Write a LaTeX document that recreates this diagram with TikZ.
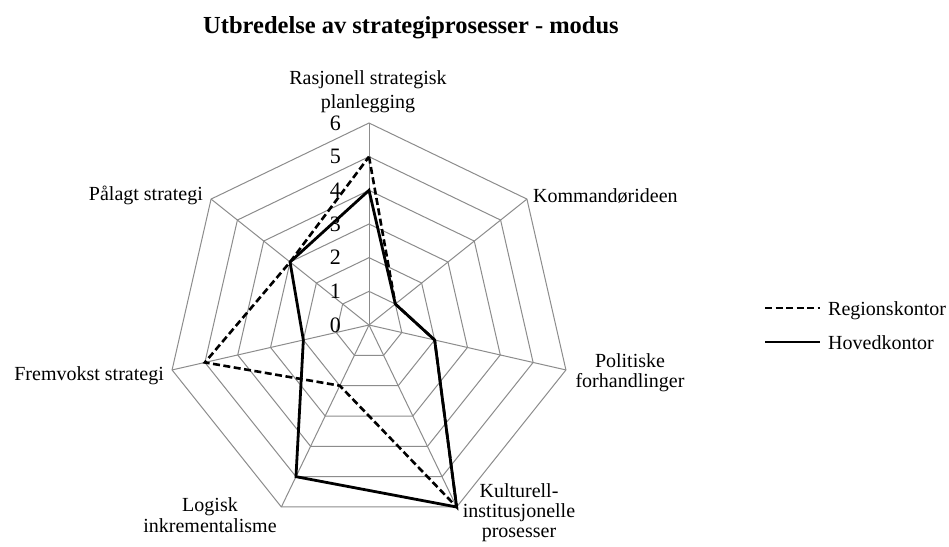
\documentclass[tikz,border=0pt]{standalone}
\usepackage{fontspec}
\setmainfont{Liberation Serif}
\begin{document}
\begin{tikzpicture}[x=1pt,y=-1pt,
  gridline/.style={draw=black!45, line width=1pt, line join=miter},
  regline/.style={draw=black, line width=2.6pt, dash pattern=on 7pt off 3.5pt, line join=miter},
  hovline/.style={draw=black, line width=2.8pt, line join=miter},
  axlabel/.style={font=\fontsize{20}{20}\selectfont, inner sep=0pt, align=center},
  ticklabel/.style={font=\fontsize{22}{22}\selectfont, inner sep=0pt, anchor=east},
  ]
\useasboundingbox (0,0) rectangle (949,546);
\fill[white] (0,0) rectangle (949,546);

% title
\node[font=\bfseries\fontsize{24.5}{24.5}\selectfont, inner sep=0pt, anchor=base] (title) at (411,33) {Utbredelse av strategiprosesser - modus};

\begin{scope}[shift={(369,325)}]
  \coordinate (c) at (0,0);
  % axis end points
  \foreach \k in {0,...,6} {
    \coordinate (a\k) at ({-90+\k*360/7}:202);
  }
  % rings
  \foreach \r in {1,...,6} {
    \draw[gridline] (-90:{\r*202/6}) \foreach \k in {1,...,6} { -- ({-90+\k*360/7}:{\r*202/6}) } -- cycle;
  }
  % spokes
  \foreach \k in {0,...,6} {
    \draw[gridline] (c) -- (a\k);
  }
  % data points
  \foreach \v [count=\i from 0] in {5,1,2,6,2,5,3} {
    \coordinate (r\i) at ({-90+\i*360/7}:{\v*202/6});
  }
  \foreach \v [count=\i from 0] in {4,1,2,6,5,2,3} {
    \coordinate (h\i) at ({-90+\i*360/7}:{\v*202/6});
  }
\end{scope}

% tick labels
\foreach \t in {0,...,6} {
  \node[ticklabel] (t\t) at (341,{325-\t*202/6}) {\t};
}

% data lines
\draw[regline] (r0) -- (r1) -- (r2) -- (r3) -- (r4) -- (r5) -- (r6) -- cycle;
\draw[hovline] (h0) -- (h1) -- (h2) -- (h3) -- (h4) -- (h5) -- (h6) -- cycle;

% axis labels
\node[axlabel, font=\fontsize{20}{24}\selectfont, anchor=north] (l0) at (368,70) {Rasjonell strategisk\\planlegging};
\node[axlabel, anchor=base west] (l1) at (533,202) {Kommandørideen};
\node[axlabel, font=\fontsize{20}{20}\selectfont, anchor=north] (l2) at (630,353) {Politiske\\forhandlinger};
\node[axlabel, font=\fontsize{20}{20}\selectfont, anchor=north] (l3) at (519,483) {Kulturell-\\institusjonelle\\prosesser};
\node[axlabel, font=\fontsize{20}{21}\selectfont, anchor=north] (l4) at (210,497) {Logisk\\inkrementalisme};
\node[axlabel, anchor=base east] (l5) at (164,380) {Fremvokst strategi};
\node[axlabel, anchor=base east] (l6) at (203,200) {Pålagt strategi};

% legend
\coordinate (lg1a) at (765,308);
\coordinate (lg1b) at (820,308);
\coordinate (lg2a) at (765,342);
\coordinate (lg2b) at (820,342);
\draw[regline] (lg1a) -- (lg1b);
\draw[hovline] (lg2a) -- (lg2b);
\node[axlabel, anchor=base west] (lgt1) at (828,315) {Regionskontor};
\node[axlabel, anchor=base west] (lgt2) at (828,349) {Hovedkontor};
\end{tikzpicture}
\end{document}
